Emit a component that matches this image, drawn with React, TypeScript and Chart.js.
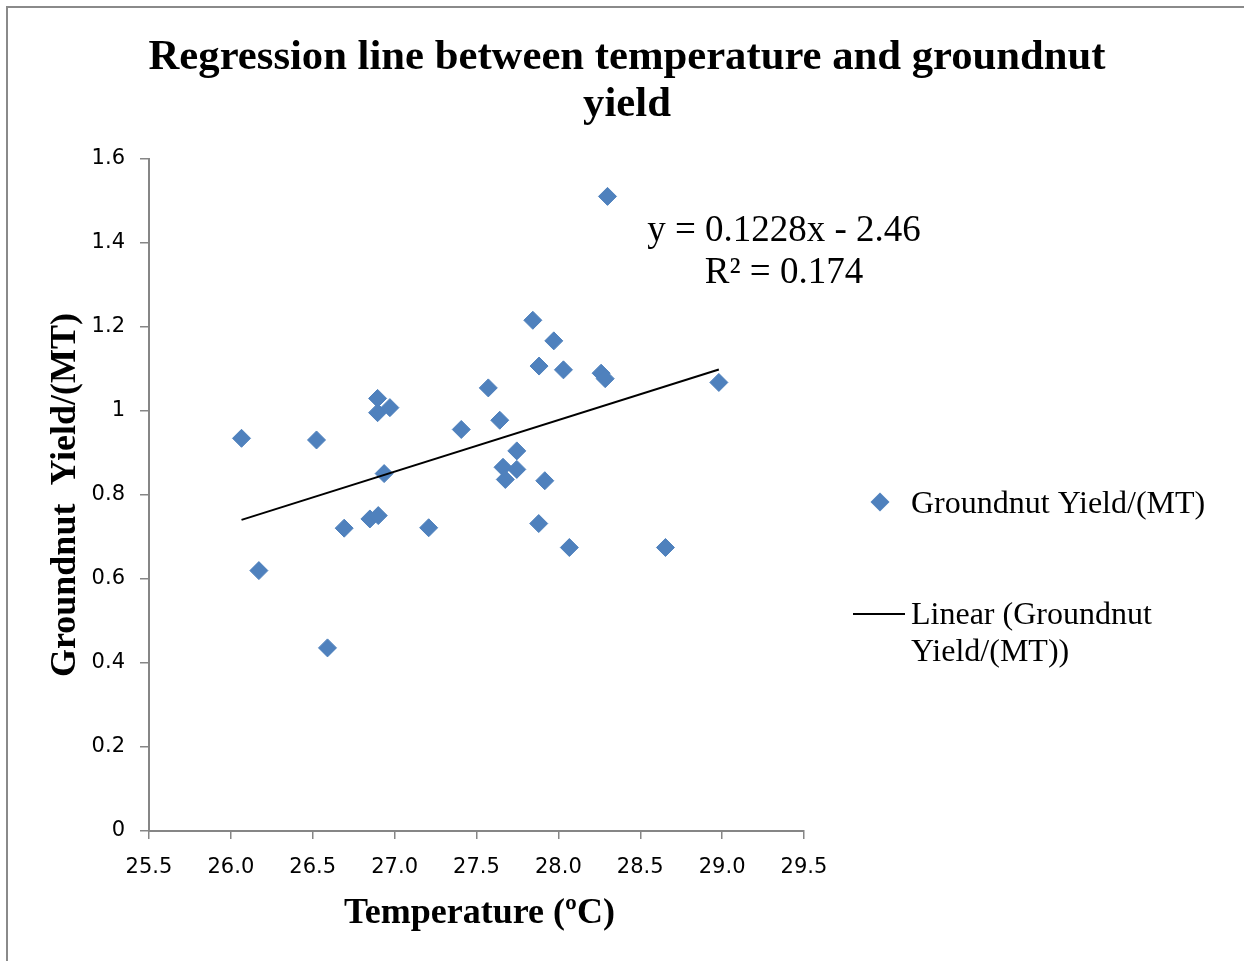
import React, { useEffect, useRef } from "react";
import { Chart, registerables } from "chart.js";

Chart.register(...registerables);

// ---- Data ----
const TEMPERATURES = [
  26.065, 26.171, 26.523, 26.59, 26.692, 26.849, 26.9, 26.896, 26.896, 26.971,
  26.936, 27.208, 27.407, 27.572, 27.642, 27.662, 27.676, 27.746, 27.746, 27.844,
  27.882, 27.88, 27.917, 27.972, 28.031, 28.067, 28.261, 28.286, 28.3, 28.654,
  28.98,
];
const YIELDS = [
  0.935, 0.62, 0.931, 0.436, 0.721, 0.743, 0.751, 1.03, 0.996, 1.008,
  0.851, 0.722, 0.956, 1.055, 0.978, 0.866, 0.837, 0.905, 0.861, 1.216,
  1.107, 0.732, 0.834, 1.167, 1.098, 0.675, 1.09, 1.077, 1.511, 0.675,
  1.068,
];
const X_RANGE = [25.5, 29.5];
const X_STEP = 0.5;
const Y_RANGE = [0, 1.6];
const Y_STEP = 0.2;
const TREND_SLOPE = 0.1228;
const TREND_INTERCEPT = -2.46;

const TITLE_LINES = ["Regression line between temperature and groundnut", "yield"];
const X_TITLE = "Temperature (\u00BAC)";
const Y_TITLE = "Groundnut  Yield/(MT)";
const SERIES_LABEL = "Groundnut Yield/(MT)";
const TREND_LABEL_LINES = ["Linear (Groundnut", "Yield/(MT))"];
const EQUATION_LINES = ["y = 0.1228x - 2.46", "R\u00B2 = 0.174"];

const W = 1244;
const H = 961;
const BLUE = "#4F81BD";
const AXIS_GRAY = "#868686";
const SERIF = "'Liberation Serif', 'Times New Roman', serif";

const decorPlugin = {
  id: "decor",
  beforeDraw(chart: any) {
    const ctx = chart.ctx;
    ctx.save();
    ctx.fillStyle = "#ffffff";
    ctx.fillRect(0, 0, W, H);
    ctx.strokeStyle = "#8a8a8a";
    ctx.lineWidth = 2;
    ctx.beginPath();
    ctx.moveTo(6, 7);
    ctx.lineTo(W, 7);
    ctx.moveTo(7, 6);
    ctx.lineTo(7, H);
    ctx.stroke();
    ctx.restore();
  },
  afterDraw(chart: any) {
    const ctx = chart.ctx;
    const area = chart.chartArea;
    ctx.save();
    ctx.fillStyle = "#000";
    ctx.textBaseline = "alphabetic";

    // Title
    ctx.font = `bold 42.7px ${SERIF}`;
    ctx.textAlign = "center";
    ctx.fillText(TITLE_LINES[0], 627, 69);
    ctx.fillText(TITLE_LINES[1], 627, 116);

    // X axis title
    ctx.font = `bold 36px ${SERIF}`;
    ctx.fillText(X_TITLE, (area.left + area.right) / 2 + 3, 923);

    // Y axis title
    ctx.save();
    ctx.translate(75, (area.top + area.bottom) / 2);
    ctx.rotate(-Math.PI / 2);
    ctx.fillText(Y_TITLE, 0, 0);
    ctx.restore();

    // Equation
    ctx.font = `37px ${SERIF}`;
    ctx.textAlign = "center";
    ctx.fillText(EQUATION_LINES[0], 784, 241);
    ctx.fillText(EQUATION_LINES[1], 784, 283);

    // Legend
    ctx.textAlign = "left";
    ctx.font = `32px ${SERIF}`;
    const mx = 880;
    const my = 502;
    const r = 9.5;
    ctx.fillStyle = BLUE;
    ctx.beginPath();
    ctx.moveTo(mx - r, my);
    ctx.lineTo(mx, my - r);
    ctx.lineTo(mx + r, my);
    ctx.lineTo(mx, my + r);
    ctx.closePath();
    ctx.fill();
    ctx.fillStyle = "#000";
    ctx.fillText(SERIES_LABEL, 911, 513);

    ctx.strokeStyle = "#000";
    ctx.lineWidth = 2;
    ctx.beginPath();
    ctx.moveTo(853, 614);
    ctx.lineTo(905, 614);
    ctx.stroke();
    ctx.fillText(TREND_LABEL_LINES[0], 911, 624);
    ctx.fillText(TREND_LABEL_LINES[1], 911, 661);

    ctx.restore();
  },
};

export default function App() {
  const canvasRef = useRef<HTMLCanvasElement | null>(null);

  useEffect(() => {
    const canvas = canvasRef.current;
    if (!canvas) return;
    const points = TEMPERATURES.map((t, i) => ({ x: t, y: YIELDS[i] }));
    const minT = Math.min(...TEMPERATURES);
    const maxT = Math.max(...TEMPERATURES);
    const trend = [
      { x: minT, y: TREND_SLOPE * minT + TREND_INTERCEPT },
      { x: maxT, y: TREND_SLOPE * maxT + TREND_INTERCEPT },
    ];

    const tickFont = { family: "'DejaVu Sans', sans-serif", size: 21 };

    const chart = new Chart(canvas, {
      type: "scatter",
      data: {
        datasets: [
          {
            type: "line",
            label: TREND_LABEL_LINES.join(" "),
            data: trend,
            borderColor: "#000",
            borderWidth: 2,
            pointRadius: 0,
            fill: false,
            showLine: true,
            order: 0,
          } as any,
          {
            label: SERIES_LABEL,
            data: points,
            pointStyle: "rectRot",
            pointRadius: 9,
            backgroundColor: BLUE,
            borderColor: BLUE,
            borderWidth: 1,
            order: 1,
          },
        ],
      },
      options: {
        responsive: false,
        animation: false,
        devicePixelRatio: 1,
        layout: { padding: { top: 159, right: 440, left: 0, bottom: 0 } },
        plugins: {
          legend: { display: false },
          title: { display: false },
          tooltip: { enabled: false },
        },
        scales: {
          x: {
            type: "linear",
            min: X_RANGE[0],
            max: X_RANGE[1],
            ticks: {
              stepSize: X_STEP,
              font: tickFont,
              color: "#000",
              padding: 16,
              maxRotation: 0,
              autoSkip: false,
              callback: (v: any) => Number(v).toFixed(1),
            },
            grid: {
              display: true,
              drawOnChartArea: false,
              drawTicks: true,
              tickLength: 8,
              color: AXIS_GRAY,
              lineWidth: 1.5,
            },
            border: { display: true, color: AXIS_GRAY, width: 2 },
            afterFit: (s: any) => {
              s.height = 130;
            },
          },
          y: {
            type: "linear",
            min: Y_RANGE[0],
            max: Y_RANGE[1],
            ticks: {
              stepSize: Y_STEP,
              font: tickFont,
              color: "#000",
              padding: 15,
              callback: (v: any) => String(Math.round(Number(v) * 10) / 10),
            },
            grid: {
              display: true,
              drawOnChartArea: false,
              drawTicks: true,
              tickLength: 9,
              color: AXIS_GRAY,
              lineWidth: 1.5,
            },
            border: { display: true, color: AXIS_GRAY, width: 2 },
            afterFit: (s: any) => {
              s.width = 149;
            },
          },
        },
      } as any,
      plugins: [decorPlugin],
    });
    return () => chart.destroy();
  }, []);

  return (
    <div style={{ position: "absolute", left: 0, top: 0, width: W, height: H }}>
      <canvas ref={canvasRef} width={W} height={H} style={{ display: "block" }} />
    </div>
  );
}
